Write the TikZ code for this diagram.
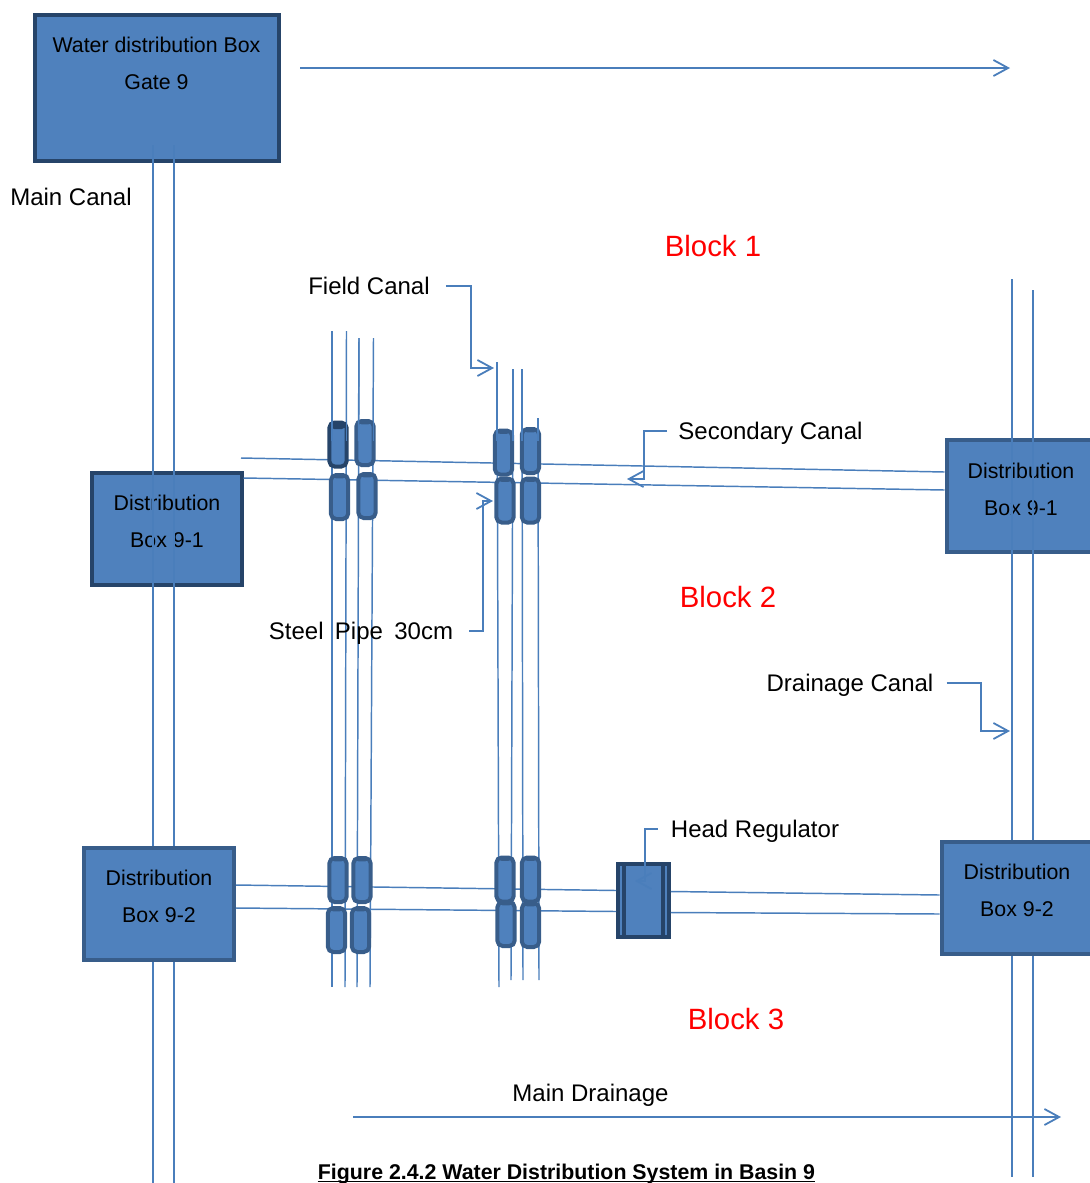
\documentclass[tikz,border=0pt]{standalone}
\usepackage{fontspec}
\setmainfont{Liberation Sans}
\usepackage{xcolor}
\usetikzlibrary{arrows.meta,calc}
\definecolor{boxfill}{HTML}{4F81BD}
\definecolor{boxedge}{HTML}{385D8A}
\definecolor{darkedge}{HTML}{264469}
\definecolor{canalblue}{HTML}{4A7EBB}
\tikzset{
  distbox/.style={rectangle, draw=boxedge, fill=boxfill, line width=3pt,
                  minimum width=112.5pt, minimum height=84pt, inner sep=0pt},
  boxtext/.style={align=center, inner sep=0pt, font=\fontsize{16}{27.75}\selectfont},
  tag/.style={inner ysep=0pt, inner xsep=0pt, text height=13pt, text depth=0pt,
              font=\fontsize{18}{22}\selectfont},
  blocktag/.style={text=red, inner sep=0pt, font=\fontsize{22}{26}\selectfont},
  pipe/.style={rectangle, rounded corners=4pt, draw=boxedge, fill=boxfill, line width=3pt,
               minimum width=13pt, minimum height=33pt, inner sep=0pt,
               path picture={\fill[boxedge] (path picture bounding box.north west)
                 rectangle ([yshift=-2.5pt]path picture bounding box.north east);}},
  darkpipe/.style={pipe, draw=darkedge,
               path picture={\fill[darkedge] (path picture bounding box.north west)
                 rectangle ([yshift=-5pt]path picture bounding box.north east);}},
  regulator/.style={rectangle, draw=darkedge, fill=boxfill, line width=3pt,
               minimum width=38pt, minimum height=55pt, inner sep=0pt,
               path picture={\draw[darkedge, line width=3pt]
                 ([xshift=-14.6pt]path picture bounding box.north) -- ([xshift=-14.6pt]path picture bounding box.south)
                 ([xshift=14.3pt]path picture bounding box.north) -- ([xshift=14.3pt]path picture bounding box.south);}},
  canal/.style={draw=canalblue, line width=1.1pt},
  flow/.style={draw=canalblue, line width=1.35pt, -{Straight Barb[length=11pt,width=12pt]}},
}
\begin{document}
\begin{tikzpicture}[x=0.75pt, y=-0.75pt]
\useasboundingbox (0,0) rectangle (1090,1183);
\clip (0,0) rectangle (1090,1183);

% boxes the long canals run over
\node[distbox, draw=darkedge, minimum width=183pt, minimum height=109.5pt] (gatebox) at (156.5,87.5) {};
\node[distbox, draw=darkedge] (box91l) at (166.5,528.5) {};
\node[distbox] (box91r) at (1021.5,496) {};
\node[boxtext] (gatetext) at (156.5,63) {Water distribution Box\\Gate 9};
\node[boxtext] (text91l) at (167,521) {Distribution\\Box 9-1};
\node[boxtext] (text91r) at (1021,489) {Distribution\\Box 9-1};

% free ends of the canals
\coordinate (main1a) at (153,145);   \coordinate (main1b) at (153,1183);
\coordinate (main2a) at (174,145);   \coordinate (main2b) at (174,1183);
\coordinate (drain1a) at (1012,279); \coordinate (drain1b) at (1012,1177);
\coordinate (drain2a) at (1033,290); \coordinate (drain2b) at (1033,1177);
\coordinate (seca) at (241,458);
\coordinate (f1a) at (332,331);      \coordinate (f1b) at (332,987);   \coordinate (f1c) at (332,441);
\coordinate (f2a) at (346.5,331);    \coordinate (f2b) at (345,987);   \coordinate (f2c) at (346.5,441);
\coordinate (f3a) at (359,338);      \coordinate (f3b) at (357,987);   \coordinate (f3c) at (358.5,441);
\coordinate (f4a) at (373.5,338);    \coordinate (f4b) at (370,987);   \coordinate (f4c) at (373.5,441);
\coordinate (f5a) at (497,362);      \coordinate (f5b) at (499,987);   \coordinate (f5c) at (497,441);
\coordinate (f6a) at (513,369);      \coordinate (f6b) at (511,980);   \coordinate (f6c) at (513,441);
\coordinate (f7a) at (522,369);      \coordinate (f7b) at (523,980);   \coordinate (f7c) at (522,441);
\coordinate (f8a) at (538,418);      \coordinate (f8b) at (539,980);   \coordinate (f8c) at (538,441);

\path[canal]
 (main1a) edge (main1b)
 (main2a) edge (main2b)
 (drain1a) edge (drain1b)
 (drain2a) edge (drain2b);

% these boxes hide the long canals
\node[distbox] (box92l) at (159,904) {};
\node[distbox] (box92r) at (1016.5,898) {};
\node[regulator] (headreg) at (643.5,900.5) {};
\node[boxtext] (text92l) at (159,896) {Distribution\\Box 9-2};
\node[boxtext] (text92r) at (1017,890) {Distribution\\Box 9-2};

\path[canal]
 (seca) edge ($(box91r.west)+(0,-24)$)
 ($(box91l.east)+(0,-50.5)$) edge ($(box91r.west)+(0,-6)$)
 ($(box92l.east)+(0,-19)$) edge ($(headreg.west)+(0,-10)$)
 ($(box92l.east)+(0,4)$) edge ($(headreg.west)+(0,11)$)
 ($(headreg.east)+(0,-9)$) edge ($(box92r.west)+(0,-3)$)
 ($(headreg.east)+(0,12)$) edge ($(box92r.west)+(0,16)$)
 (f1a) edge (f1b)
 (f2a) edge (f2b)
 (f3a) edge (f3b)
 (f4a) edge (f4b)
 (f5a) edge (f5b)
 (f6a) edge (f6b)
 (f7a) edge (f7b)
 (f8a) edge (f8b);

% steel pipes
\node[darkpipe] (p1) at (338,444.5) {};
\node[pipe] (p2) at (365,443) {};
\node[pipe] (p3) at (339.5,497) {};
\node[pipe] (p4) at (367,496) {};
\node[pipe] (p5) at (503.5,452.5) {};
\node[pipe] (p6) at (530.5,451) {};
\node[pipe] (p7) at (505,500.5) {};
\node[pipe] (p8) at (530.5,500.5) {};
\node[pipe] (p9) at (338,880) {};
\node[pipe] (p10) at (362,880) {};
\node[pipe] (p11) at (336.5,930) {};
\node[pipe] (p12) at (360.5,930) {};
\node[pipe] (p13) at (505,879.5) {};
\node[pipe] (p14) at (530.5,879.5) {};
\node[pipe] (p15) at (506,924) {};
\node[pipe] (p16) at (530.5,925) {};

% canals seen through the upper pipes
\path[canal]
 (f1a) edge (f1c)
 (f2a) edge (f2c)
 (f3a) edge (f3c)
 (f4a) edge (f4c)
 (f5a) edge (f5c)
 (f6a) edge (f6c)
 (f7a) edge (f7c)
 (f8a) edge (f8c);

% labels
\node[tag] (maincanal) at (71,197) {Main Canal};
\node[tag, inner xsep=12pt] (fieldcanal) at (369,286) {Field Canal};
\node[tag, inner xsep=8.25pt] (seccanal) at (770.5,431) {Secondary Canal};
\node[tag, inner xsep=12pt] (steelpipe) at (361,631) {Steel\hspace{8.5pt}Pipe\hspace{8.5pt}30cm};
\node[tag, inner xsep=9.75pt] (draincanal) at (850,683) {Drainage Canal};
\node[tag, inner xsep=9.75pt] (headlabel) at (755,829) {Head Regulator};
\node[tag] (maindrain) at (590.5,1093) {Main Drainage};
\node[blocktag] (block1) at (713,246) {Block 1};
\node[blocktag] (block2) at (728,597) {Block 2};
\node[blocktag] (block3) at (736,1019) {Block 3};
\node[anchor=base, inner sep=0pt, font=\fontsize{16}{18}\selectfont\bfseries] (caption) at (566.5,1179) {Figure 2.4.2 Water Distribution System in Basin 9};
\draw[black, line width=1pt] ($(caption.base west)+(0,2.5)$) -- ($(caption.base east)+(0,2.5)$);

% arrows
\coordinate (top1) at (300,68);   \coordinate (top2) at (1010,68);
\coordinate (low1) at (353,1117); \coordinate (low2) at (1061,1117);
\coordinate (fieldtip) at (494,368);
\coordinate (sectip) at (627,479);
\coordinate (steeltip) at (493,501);
\coordinate (draintip) at (1010,731);
\coordinate (headtip) at (635,881);

\draw[flow] (top1) -- (top2);
\draw[flow] (low1) -- (low2);
\draw[flow] (fieldcanal.east) -- ++(25,0) |- (fieldtip);
\draw[flow] (seccanal.west) -- ++(-23,0) |- (sectip);
\draw[flow] (steelpipe.east) -- ++(14,0) |- (steeltip);
\draw[flow] (draincanal.east) -- ++(34,0) |- (draintip);
\draw[flow] (headlabel.west) -- ++(-13,0) |- (headtip);
\end{tikzpicture}
\end{document}
